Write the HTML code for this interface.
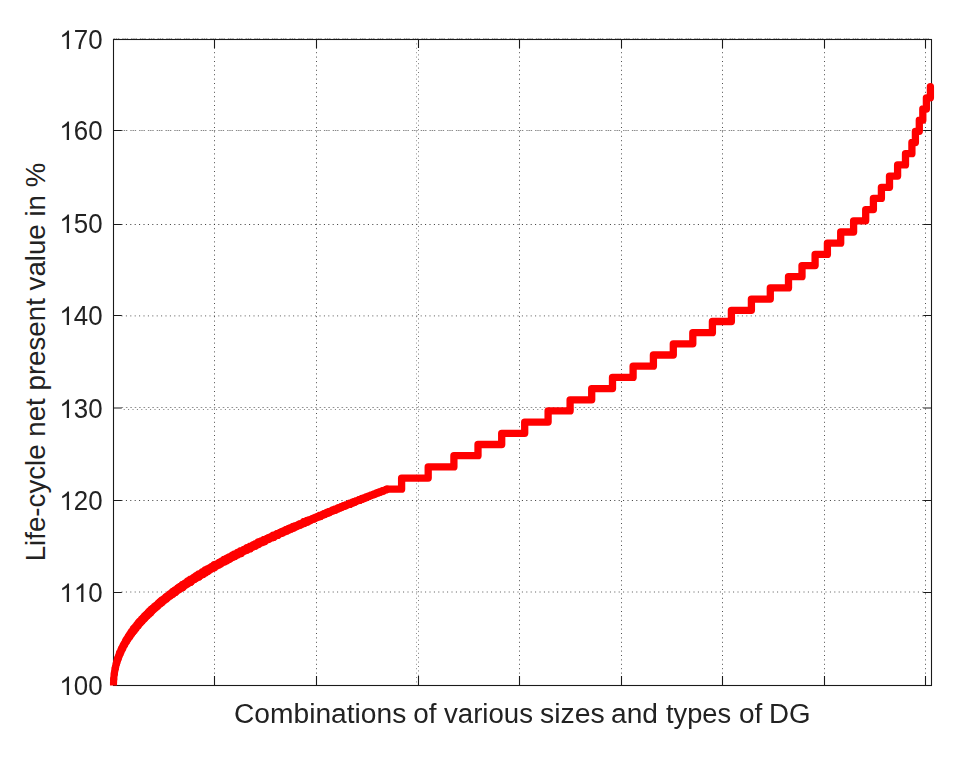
<!DOCTYPE html>
<html><head><meta charset="utf-8"><title>chart</title>
<style>
html,body{margin:0;padding:0;background:#fff}
body{width:958px;height:759px;position:relative;overflow:hidden;font-family:"Liberation Sans",sans-serif;color:#222}
.xw{position:absolute;filter:grayscale(1);top:698.3px;font-size:27.85px;line-height:32px;white-space:nowrap;transform-origin:0 78%}
.yl{position:absolute;left:36px;top:361.5px;width:0;height:0}
.yl span{position:absolute;display:block;width:600px;left:-300px;top:-16px;line-height:32px;text-align:center;font-size:27.7px;white-space:nowrap;transform:rotate(-90deg);transform-origin:50% 50%}
</style></head><body>
<svg width="958" height="759" viewBox="0 0 958 759" style="position:absolute;left:0;top:0">
<rect width="958" height="759" fill="#fff"/>
<g stroke="#222" stroke-width="1" fill="none">
<line x1="214.5" y1="39.0" x2="214.5" y2="685.2" stroke-dasharray="1 3.4" stroke-opacity="0.8"/>
<line x1="316.5" y1="39.0" x2="316.5" y2="685.2" stroke-dasharray="1 3.4" stroke-opacity="0.8"/>
<line x1="416.5" y1="39.0" x2="416.5" y2="685.2" stroke-dasharray="1 3.4" stroke-opacity="0.5"/>
<line x1="418.5" y1="39.0" x2="418.5" y2="685.2" stroke-dasharray="1 3.4" stroke-dashoffset="2.2" stroke-opacity="0.6"/>
<line x1="519.5" y1="39.0" x2="519.5" y2="685.2" stroke-dasharray="1 3.4" stroke-opacity="0.8"/>
<line x1="621.5" y1="39.0" x2="621.5" y2="685.2" stroke-dasharray="1 3.4" stroke-opacity="0.8"/>
<line x1="722.5" y1="39.0" x2="722.5" y2="685.2" stroke-dasharray="1 3.4" stroke-opacity="0.8"/>
<line x1="824.5" y1="39.0" x2="824.5" y2="685.2" stroke-dasharray="1 3.4" stroke-opacity="0.8"/>
<line x1="925.5" y1="39.0" x2="925.5" y2="685.2" stroke-dasharray="1 3.4" stroke-opacity="0.8"/>
<line x1="121.5" y1="130.5" x2="923.5" y2="130.5" stroke-dasharray="1.4 0.8 1.4 0.8 1.4 3" stroke-dashoffset="0" stroke-opacity="0.55"/>
<line x1="121.5" y1="224.5" x2="923.5" y2="224.5" stroke-dasharray="1 3.4" stroke-dashoffset="0" stroke-opacity="0.9"/>
<line x1="121.5" y1="315.9" x2="923.5" y2="315.9" stroke-dasharray="1 3.4" stroke-dashoffset="0" stroke-opacity="0.75"/>
<line x1="121.5" y1="407.5" x2="923.5" y2="407.5" stroke-dasharray="1.6 2.8" stroke-dashoffset="0" stroke-opacity="0.5"/>
<line x1="121.5" y1="409.5" x2="923.5" y2="409.5" stroke-dasharray="1 3.4" stroke-dashoffset="2.2" stroke-opacity="0.6"/>
<line x1="121.5" y1="500.5" x2="923.5" y2="500.5" stroke-dasharray="1 3.4" stroke-dashoffset="0" stroke-opacity="0.9"/>
<line x1="121.5" y1="592.0" x2="923.5" y2="592.0" stroke-dasharray="1 3.4" stroke-dashoffset="0" stroke-opacity="0.75"/>
<line x1="113.5" y1="38.55" x2="931.5" y2="38.55" stroke-dasharray="1.4 0.8 1.4 0.8 1.4 3" stroke-opacity="0.4"/>
</g>
<g stroke="#1a1a1a" stroke-width="1.1" fill="none">
<rect x="113.5" y="39.5" width="818" height="646"/>
<path d="M214.5,685.5 v-9.5 M214.5,39.5 v8.5"/>
<path d="M316.5,685.5 v-9.5 M316.5,39.5 v8.5"/>
<path d="M418.5,685.5 v-9.5 M418.5,39.5 v8.5"/>
<path d="M519.5,685.5 v-9.5 M519.5,39.5 v8.5"/>
<path d="M621.5,685.5 v-9.5 M621.5,39.5 v8.5"/>
<path d="M722.5,685.5 v-9.5 M722.5,39.5 v8.5"/>
<path d="M824.5,685.5 v-9.5 M824.5,39.5 v8.5"/>
<path d="M925.5,685.5 v-9.5 M925.5,39.5 v8.5"/>
<path d="M113.5,592.5 h8.3 M931.5,592.5 h-8.3"/>
<path d="M113.5,500.5 h8.3 M931.5,500.5 h-8.3"/>
<path d="M113.5,408.0 h8.3 M931.5,408.0 h-8.3"/>
<path d="M113.5,315.5 h8.3 M931.5,315.5 h-8.3"/>
<path d="M113.5,224.5 h8.3 M931.5,224.5 h-8.3"/>
<path d="M113.5,130.5 h8.3 M931.5,130.5 h-8.3"/>
</g>
<g fill="#222" style="filter:grayscale(1)" font-family="Liberation Sans, sans-serif" font-size="25.9px">
<path transform="translate(59.38,695.00) scale(0.012646,-0.012646)" d="M763 0H583V1147Q518 1085 412.5 1023T223 930V1104Q374 1175 487 1276T647 1472H763Z"/>
<text transform="translate(73.79,695.00) scale(1,1.045)" x="0" y="0">00</text>
<path transform="translate(59.38,602.00) scale(0.012646,-0.012646)" d="M763 0H583V1147Q518 1085 412.5 1023T223 930V1104Q374 1175 487 1276T647 1472H763Z"/>
<path transform="translate(73.79,602.00) scale(0.012646,-0.012646)" d="M763 0H583V1147Q518 1085 412.5 1023T223 930V1104Q374 1175 487 1276T647 1472H763Z"/>
<text transform="translate(88.19,602.00) scale(1,1.045)" x="0" y="0">0</text>
<path transform="translate(59.38,510.00) scale(0.012646,-0.012646)" d="M763 0H583V1147Q518 1085 412.5 1023T223 930V1104Q374 1175 487 1276T647 1472H763Z"/>
<text transform="translate(73.79,510.00) scale(1,1.045)" x="0" y="0">20</text>
<path transform="translate(59.38,418.00) scale(0.012646,-0.012646)" d="M763 0H583V1147Q518 1085 412.5 1023T223 930V1104Q374 1175 487 1276T647 1472H763Z"/>
<text transform="translate(73.79,418.00) scale(1,1.045)" x="0" y="0">30</text>
<path transform="translate(59.38,325.00) scale(0.012646,-0.012646)" d="M763 0H583V1147Q518 1085 412.5 1023T223 930V1104Q374 1175 487 1276T647 1472H763Z"/>
<text transform="translate(73.79,325.00) scale(1,1.045)" x="0" y="0">40</text>
<path transform="translate(59.38,233.00) scale(0.012646,-0.012646)" d="M763 0H583V1147Q518 1085 412.5 1023T223 930V1104Q374 1175 487 1276T647 1472H763Z"/>
<text transform="translate(73.79,233.00) scale(1,1.045)" x="0" y="0">50</text>
<path transform="translate(59.38,140.00) scale(0.012646,-0.012646)" d="M763 0H583V1147Q518 1085 412.5 1023T223 930V1104Q374 1175 487 1276T647 1472H763Z"/>
<text transform="translate(73.79,140.00) scale(1,1.045)" x="0" y="0">60</text>
<path transform="translate(59.38,49.00) scale(0.012646,-0.012646)" d="M763 0H583V1147Q518 1085 412.5 1023T223 930V1104Q374 1175 487 1276T647 1472H763Z"/>
<text transform="translate(73.79,49.00) scale(1,1.045)" x="0" y="0">70</text>
</g>
<clipPath id="cb"><rect x="100" y="30" width="850" height="655.6"/></clipPath>
<g clip-path="url(#cb)" fill="none" stroke="#ff0000" stroke-linejoin="round" stroke-linecap="round">
<path d="M113.5,685.2 L113.5,685.2 L113.5,685.0 L113.5,685.0 L113.5,684.6 L113.5,684.6 L113.5,684.3 L113.5,684.3 L113.5,684.0 L113.5,684.0 L113.5,683.5 L113.5,683.5 L113.5,683.2 L113.5,683.2 L113.5,682.9 L113.5,682.9 L113.5,682.7 L113.5,682.7 L113.5,682.5 L113.6,682.5 L113.6,682.1 L113.6,682.1 L113.6,681.8 L113.6,681.8 L113.6,681.3 L113.6,681.3 L113.6,681.1 L113.6,681.1 L113.6,680.9 L113.6,680.9 L113.6,680.7 L113.6,680.7 L113.6,680.2 L113.7,680.2 L113.7,680.0 L113.7,680.0 L113.7,679.7 L113.7,679.7 L113.7,679.2" stroke-width="7.10"/>
<path d="M113.7,679.2 L113.7,679.2 L113.7,679.0 L113.7,679.0 L113.7,678.7 L113.8,678.7 L113.8,678.1 L113.8,678.1 L113.8,677.9 L113.8,677.9 L113.8,677.5 L113.9,677.5 L113.9,677.0 L113.9,677.0 L113.9,676.8 L113.9,676.8 L113.9,676.5 L114.0,676.5 L114.0,676.0 L114.0,676.0 L114.0,675.6 L114.1,675.6 L114.1,675.2 L114.1,675.2 L114.1,675.0 L114.2,675.0 L114.2,674.6 L114.2,674.6 L114.2,674.3 L114.3,674.3 L114.3,673.9 L114.3,673.9 L114.3,673.5" stroke-width="7.13"/>
<path d="M114.3,673.5 L114.4,673.5 L114.4,673.0 L114.4,673.0 L114.4,672.4 L114.5,672.4 L114.5,672.1 L114.6,672.1 L114.6,671.7 L114.6,671.7 L114.6,671.3 L114.7,671.3 L114.7,670.9 L114.8,670.9 L114.8,670.5 L114.9,670.5 L114.9,670.0 L115.0,670.0 L115.0,669.6 L115.0,669.6 L115.0,669.1 L115.1,669.1 L115.1,668.5 L115.3,668.5 L115.3,668.1" stroke-width="7.18"/>
<path d="M115.3,668.1 L115.4,668.1 L115.4,667.3 L115.5,667.3 L115.5,667.0 L115.6,667.0 L115.6,666.3 L115.8,666.3 L115.8,665.8 L115.9,665.8 L115.9,665.3 L116.0,665.3 L116.0,664.6 L116.2,664.6 L116.2,664.0 L116.4,664.0 L116.4,663.4 L116.5,663.4 L116.5,663.1" stroke-width="7.26"/>
<path d="M116.5,663.1 L116.6,663.1 L116.6,662.8 L116.7,662.8 L116.7,662.0 L117.0,662.0 L117.0,661.2 L117.2,661.2 L117.2,660.4 L117.5,660.4 L117.5,659.2 L117.9,659.2 L117.9,658.3" stroke-width="7.34"/>
<path d="M117.9,658.3 L118.1,658.3 L118.1,657.9 L118.3,657.9 L118.3,657.2 L118.6,657.2 L118.6,656.3 L118.9,656.3 L118.9,655.7 L119.2,655.7 L119.2,654.5 L119.7,654.5 L119.7,653.2" stroke-width="7.42"/>
<path d="M119.7,653.2 L120.2,653.2 L120.2,652.0 L120.7,652.0 L120.7,651.2 L121.1,651.2 L121.1,649.9 L121.5,649.9 L121.5,649.4 L121.8,649.4 L121.8,648.7" stroke-width="7.49"/>
<path d="M121.8,648.7 L122.2,648.7 L122.2,647.9 L122.7,647.9 L122.7,646.7 L123.2,646.7 L123.2,645.8 L123.6,645.8 L123.6,645.3 L124.0,645.3 L124.0,644.5" stroke-width="7.56"/>
<path d="M124.0,644.5 L124.4,644.5 L124.4,643.7 L124.8,643.7 L124.8,643.0 L125.2,643.0 L125.2,642.4 L125.6,642.4 L125.6,641.5 L126.1,641.5 L126.1,640.6" stroke-width="7.62"/>
<path d="M126.1,640.6 L126.8,640.6 L126.8,639.3 L127.6,639.3 L127.6,638.0 L128.3,638.0 L128.3,637.0 L129.0,637.0" stroke-width="7.70"/>
<path d="M129.0,637.0 L129.0,636.0 L129.8,636.0 L129.8,634.6 L130.8,634.6 L130.8,633.1 L131.8,633.1" stroke-width="7.78"/>
<path d="M131.8,633.1 L131.8,631.8 L132.8,631.8 L132.8,630.4 L134.0,630.4 L134.0,628.7" stroke-width="7.86"/>
<path d="M134.0,628.7 L134.8,628.7 L134.8,628.2 L135.7,628.2 L135.7,626.6 L136.7,626.6 L136.7,625.7 L137.5,625.7" stroke-width="7.93"/>
<path d="M137.5,625.7 L137.5,624.6 L138.6,624.6 L138.6,623.1 L139.9,623.1 L139.9,621.7" stroke-width="7.97"/>
<path d="M139.9,621.7 L140.8,621.7 L140.8,621.0 L141.8,621.0 L141.8,619.6 L142.7,619.6 L142.7,619.0 L143.4,619.0" stroke-width="8.01"/>
<path d="M143.4,619.0 L143.4,618.1 L144.6,618.1 L144.6,616.5 L145.9,616.5 L145.9,615.5" stroke-width="8.06"/>
<path d="M145.9,615.5 L147.0,615.5 L147.0,614.2 L148.4,614.2 L148.4,612.7 L150.0,612.7" stroke-width="8.10"/>
<path d="M150.0,612.7 L150.0,611.1 L151.6,611.1 L151.6,609.6 L152.7,609.6 L152.7,609.1" stroke-width="8.16"/>
<path d="M152.7,609.1 L153.6,609.1 L153.6,608.0 L154.8,608.0 L154.8,606.9 L155.8,606.9 L155.8,606.3 L156.8,606.3" stroke-width="8.20"/>
<path d="M156.8,606.3 L156.8,605.1 L158.3,605.1 L158.3,603.7 L160.1,603.7 L160.1,602.1" stroke-width="8.26"/>
<path d="M160.1,602.1 L162.1,602.1 L162.1,600.3 L163.7,600.3 L163.7,599.6" stroke-width="8.31"/>
<path d="M163.7,599.6 L164.6,599.6 L164.6,598.8 L166.1,598.8 L166.1,597.3 L167.4,597.3" stroke-width="8.36"/>
<path d="M167.4,597.3 L167.4,596.6 L168.4,596.6 L168.4,595.8 L169.8,595.8 L169.8,594.5 L171.2,594.5" stroke-width="8.41"/>
<path d="M171.2,594.5 L171.2,593.7 L172.8,593.7 L172.8,592.1 L175.1,592.1" stroke-width="8.47"/>
<path d="M175.1,592.1 L175.1,590.4 L176.7,590.4 L176.7,589.8 L178.0,589.8 L178.0,588.5" stroke-width="8.51"/>
<path d="M178.0,588.5 L180.0,588.5 L180.0,586.9 L182.6,586.9" stroke-width="8.54"/>
<path d="M182.6,586.9 L182.6,585.0 L184.7,585.0 L184.7,584.1 L185.9,584.1" stroke-width="8.57"/>
<path d="M185.9,584.1 L185.9,583.3 L187.8,583.3 L187.8,581.6 L190.5,581.6" stroke-width="8.60"/>
<path d="M190.5,581.6 L190.5,579.8 L192.6,579.8 L192.6,579.0 L194.1,579.0" stroke-width="8.63"/>
<path d="M194.1,579.0 L194.1,577.8 L196.2,577.8 L196.2,576.3 L198.8,576.3" stroke-width="8.66"/>
<path d="M198.8,576.3 L198.8,574.6 L200.9,574.6 L200.9,573.8 L202.7,573.8" stroke-width="8.70"/>
<path d="M202.7,573.8 L202.7,572.3 L205.3,572.3 L205.3,570.7 L207.8,570.7" stroke-width="8.73"/>
<path d="M207.8,570.7 L207.8,569.4 L209.6,569.4 L209.6,568.6 L210.8,568.6 L210.8,568.0 L212.1,568.0" stroke-width="8.77"/>
<path d="M212.1,568.0 L212.1,567.1 L214.3,567.1 L214.3,565.4 L216.3,565.4" stroke-width="8.80"/>
<path d="M216.3,565.4 L216.3,564.8 L217.4,564.8 L217.4,564.3 L218.8,564.3 L218.8,563.3 L220.3,563.3" stroke-width="8.75"/>
<path d="M220.3,563.3 L220.3,562.6 L221.5,562.6 L221.5,561.9 L222.7,561.9 L222.7,561.4 L224.3,561.4 L224.3,560.1" stroke-width="8.70"/>
<path d="M224.3,560.1 L226.8,560.1 L226.8,558.7 L229.2,558.7" stroke-width="8.65"/>
<path d="M229.2,558.7 L229.2,557.6 L230.9,557.6 L230.9,556.9 L232.4,556.9 L232.4,555.9 L234.6,555.9" stroke-width="8.59"/>
<path d="M234.6,555.9 L234.6,554.6 L237.5,554.6 L237.5,552.9 L240.9,552.9" stroke-width="8.52"/>
<path d="M240.9,552.9 L240.9,551.1 L243.5,551.1 L243.5,550.3 L244.8,550.3" stroke-width="8.45"/>
<path d="M244.8,550.3 L244.8,549.8 L246.9,549.8 L246.9,548.2 L250.1,548.2" stroke-width="8.40"/>
<path d="M250.1,548.2 L250.1,546.6 L252.9,546.6 L252.9,545.5 L255.4,545.5" stroke-width="8.34"/>
<path d="M255.4,545.5 L255.4,544.1 L258.5,544.1 L258.5,542.5" stroke-width="8.28"/>
<path d="M258.5,542.5 L261.4,542.5 L261.4,541.3 L264.3,541.3" stroke-width="8.23"/>
<path d="M264.3,541.3 L264.3,539.8 L266.5,539.8 L266.5,539.3 L267.9,539.3 L267.9,538.5" stroke-width="8.17"/>
<path d="M267.9,538.5 L269.5,538.5 L269.5,537.7 L271.1,537.7 L271.1,537.1 L273.4,537.1" stroke-width="8.12"/>
<path d="M273.4,537.1 L273.4,535.5 L275.6,535.5 L275.6,535.1 L277.5,535.1" stroke-width="8.06"/>
<path d="M277.5,535.1 L277.5,533.8 L279.4,533.8 L279.4,533.3 L280.9,533.3 L280.9,532.4" stroke-width="8.01"/>
<path d="M280.9,532.4 L282.9,532.4 L282.9,531.5 L284.7,531.5 L284.7,530.8 L286.5,530.8" stroke-width="7.97"/>
<path d="M286.5,530.8 L286.5,529.8 L288.8,529.8 L288.8,528.8 L290.9,528.8" stroke-width="7.93"/>
<path d="M290.9,528.8 L290.9,528.0 L293.2,528.0 L293.2,526.8 L295.2,526.8" stroke-width="7.89"/>
<path d="M295.2,526.8 L295.2,526.2 L296.6,526.2 L296.6,525.6 L298.3,525.6 L298.3,524.8 L300.1,524.8" stroke-width="7.85"/>
<path d="M300.1,524.8 L300.1,524.0 L301.8,524.0 L301.8,523.3 L304.1,523.3 L304.1,522.0" stroke-width="7.81"/>
<path d="M304.1,522.0 L307.1,522.0 L307.1,520.7 L309.2,520.7" stroke-width="7.77"/>
<path d="M309.2,520.7 L309.2,520.2 L310.6,520.2 L310.6,519.5 L312.3,519.5 L312.3,518.8 L314.0,518.8" stroke-width="7.73"/>
<path d="M314.0,518.8 L314.0,518.0 L315.7,518.0 L315.7,517.3 L317.6,517.3 L317.6,516.5 L320.1,516.5" stroke-width="7.69"/>
<path d="M320.1,516.5 L320.1,515.2 L322.5,515.2 L322.5,514.5 L324.5,514.5" stroke-width="7.64"/>
<path d="M324.5,514.5 L324.5,513.5 L326.8,513.5 L326.8,512.6 L329.2,512.6" stroke-width="7.60"/>
<path d="M329.2,512.6 L329.2,511.6 L331.0,511.6 L331.0,511.1 L332.7,511.1 L332.7,510.1 L335.4,510.1" stroke-width="7.56"/>
<path d="M335.4,510.1 L335.4,508.9 L337.9,508.9 L337.9,508.1 L339.7,508.1" stroke-width="7.51"/>
<path d="M339.7,508.1 L339.7,507.5 L341.5,507.5 L341.5,506.6 L343.8,506.6 L343.8,505.7" stroke-width="7.47"/>
<path d="M343.8,505.7 L346.1,505.7 L346.1,504.8 L347.7,504.8 L347.7,504.4 L349.6,504.4" stroke-width="7.43"/>
<path d="M349.6,504.4 L349.6,503.2 L352.4,503.2 L352.4,502.2 L354.5,502.2" stroke-width="7.39"/>
<path d="M354.5,502.2 L354.5,501.5 L356.3,501.5 L356.3,500.8 L357.7,500.8 L357.7,500.4 L359.4,500.4" stroke-width="7.36"/>
<path d="M359.4,500.4 L359.4,499.4 L361.9,499.4 L361.9,498.5 L364.0,498.5" stroke-width="7.34"/>
<path d="M364.0,498.5 L364.0,497.8 L366.0,497.8 L366.0,496.9 L367.5,496.9 L367.5,496.5 L368.7,496.5" stroke-width="7.31"/>
<path d="M368.7,496.5 L368.7,496.1 L369.9,496.1 L369.9,495.6 L371.3,495.6 L371.3,494.9 L372.6,494.9 L372.6,494.6 L374.1,494.6" stroke-width="7.29"/>
<path d="M374.1,494.6 L374.1,493.8 L375.9,493.8 L375.9,493.2 L377.3,493.2 L377.3,492.7 L378.4,492.7" stroke-width="7.26"/>
<path d="M378.4,492.7 L378.4,492.4 L379.7,492.4 L379.7,491.7 L381.5,491.7 L381.5,491.0 L383.3,491.0" stroke-width="7.24"/>
<path d="M383.3,491.0 L383.3,490.3 L384.6,490.3 L384.6,490.0 L386.0,490.0 L386.0,489.3 L387.0,489.3 L387.0,489.2 L387.0,489.2" stroke-width="7.21"/>
</g>
<path d="M387.0,489.2 L401.6,489.2 L401.6,478.1 L428.2,478.1 L428.2,466.9 L453.9,466.9 L453.9,455.7 L478.0,455.7 L478.0,444.5 L501.7,444.5 L501.7,433.3 L524.7,433.3 L524.7,422.1 L548.1,422.1 L548.1,410.9 L570.1,410.9 L570.1,399.8 L591.7,399.8 L591.7,388.6 L612.5,388.6 L612.5,377.4 L633.1,377.4 L633.1,366.2 L653.4,366.2 L653.4,355.0 L673.3,355.0 L673.3,343.8 L692.8,343.8 L692.8,332.7 L712.4,332.7 L712.4,321.5 L731.4,321.5 L731.4,310.3 L751.4,310.3 L751.4,299.1 L770.3,299.1 L770.3,287.9 L788.5,287.9 L788.5,276.7 L802.0,276.7 L802.0,265.6 L815.1,265.6 L815.1,254.4 L827.4,254.4 L827.4,243.2 L840.7,243.2 L840.7,232.0 L853.6,232.0 L853.6,220.8 L865.7,220.8 L865.7,209.6 L873.4,209.6 L873.4,198.4 L881.4,198.4 L881.4,187.3 L889.5,187.3 L889.5,176.1 L897.6,176.1 L897.6,164.9 L905.5,164.9 L905.5,153.7 L911.9,153.7 L911.9,142.5 L915.4,142.5 L915.4,131.3 L919.3,131.3 L919.3,120.2 L922.8,120.2 L922.8,109.0 L926.4,109.0 L926.4,97.8 L930.4,97.8 L930.4,86.6" fill="none" stroke="#ff0000" stroke-width="7.3" stroke-linejoin="round" stroke-linecap="round"/>
</svg>

<span class="xw" style="left:233.99px;transform:scale(1.0119,1.02)">Combinations</span>
<span class="xw" style="left:413.20px;transform:scale(1.0000,1.02)">of</span>
<span class="xw" style="left:443.61px;transform:scale(0.9909,1.02)">various</span>
<span class="xw" style="left:539.78px;transform:scale(1.0197,1.02)">sizes</span>
<span class="xw" style="left:611.19px;transform:scale(1.0093,1.02)">and</span>
<span class="xw" style="left:666.01px;transform:scale(0.9785,1.02)">types</span>
<span class="xw" style="left:739.20px;transform:scale(1.0045,1.02)">of</span>
<span class="xw" style="left:769.42px;transform:scale(0.9946,1.02)">DG</span>
<div class="yl"><span>Life-cycle net present value in %</span></div>
</body></html>
